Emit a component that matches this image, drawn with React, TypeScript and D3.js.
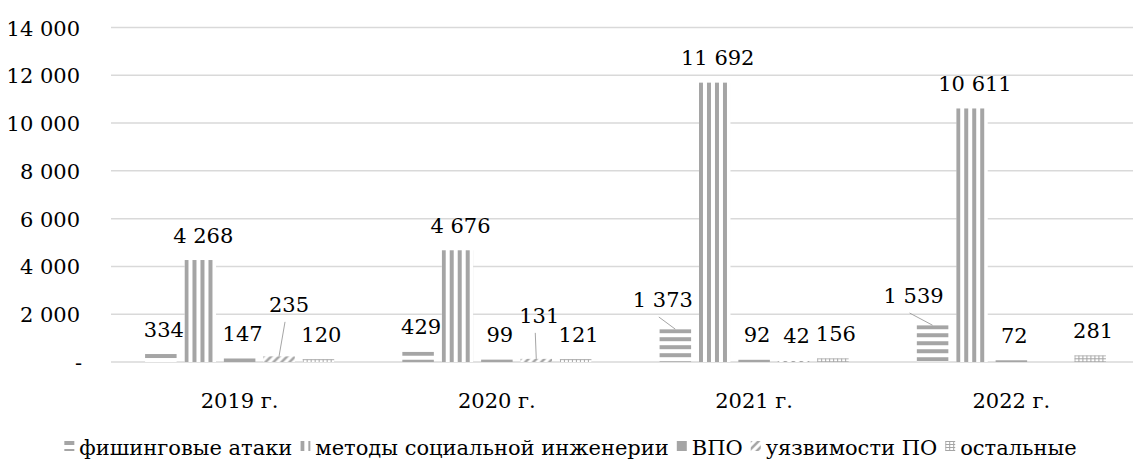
import React, { useEffect, useRef } from "react";
import * as d3 from "d3";

const categories = ["2019 г.", "2020 г.", "2021 г.", "2022 г."];
const seriesNames = ["фишинговые атаки", "методы социальной инженерии", "ВПО", "уязвимости ПО", "остальные"];
const phishing = [334, 429, 1373, 1539];
const socialEngineering = [4268, 4676, 11692, 10611];
const malware = [147, 99, 92, 72];
const vulnerabilities: (number | null)[] = [235, 131, 42, null];
const others = [120, 121, 156, 281];
const yTicks = [0, 2000, 4000, 6000, 8000, 10000, 12000, 14000];

// manual label nudges (series index - category index) : [dx, dy]
const labelNudges: Record<string, [number, number]> = {
  "3-0": [10, -27],
  "3-1": [3, -18.5],
  "0-2": [-12.5, -4.7],
  "0-3": [-19, -4.7],
};

const W = 1133;
const H = 461;
const GREY = "#a5a5a5";
const FONT = "'DejaVu Serif', serif";
const FS = "21px";

export default function App() {
  const ref = useRef<SVGSVGElement>(null);

  useEffect(() => {
    const svg = d3.select(ref.current!);
    svg.selectAll("*").remove();

    const series = [phishing, socialEngineering, malware, vulnerabilities, others];
    const loc = d3.formatLocale({ decimal: ",", thousands: " ", grouping: [3], currency: ["", ""] });
    const fmt0 = loc.format(",d");
    const fmt = (v: number) => (v === 0 ? "-" : fmt0(v));

    const y = d3.scaleLinear().domain([0, 14000]).range([362, 27.5]);
    const x0 = d3.scaleBand<string>().domain(categories).range([111, 1140]).paddingInner(0.265).paddingOuter(0.1325);
    const x1 = d3.scaleBand<number>().domain(d3.range(seriesNames.length)).range([0, x0.bandwidth()]).paddingInner(0.2);

    const defs = svg.append("defs");

    const makePattern = (id: string, si: number, tx: number, ty: number) => {
      const p = defs.append("pattern").attr("id", id).attr("patternUnits", "userSpaceOnUse")
        .attr("patternTransform", `translate(${tx},${ty})`);
      if (si === 0) {
        p.attr("width", 8).attr("height", 8);
        p.append("rect").attr("width", 8).attr("height", 8).attr("fill", "#fff");
        p.append("rect").attr("width", 8).attr("height", 4).attr("fill", GREY);
      } else if (si === 1) {
        p.attr("width", 8).attr("height", 8);
        p.append("rect").attr("width", 8).attr("height", 8).attr("fill", "#fff");
        p.append("rect").attr("width", 4).attr("height", 8).attr("fill", GREY);
      } else if (si === 2) {
        p.attr("width", 8).attr("height", 8);
        p.append("rect").attr("width", 8).attr("height", 8).attr("fill", GREY);
      } else if (si === 3) {
        p.attr("width", 8).attr("height", 8);
        p.append("rect").attr("width", 8).attr("height", 8).attr("fill", "#fff");
        p.append("path").attr("d", "M-2,10 L10,-2 M-2,2 L2,-2 M6,10 L10,6").attr("stroke", GREY).attr("stroke-width", 2.5);
      } else {
        p.attr("width", 4).attr("height", 3);
        p.append("rect").attr("width", 4).attr("height", 3).attr("fill", "#fff");
        p.append("rect").attr("width", 4).attr("height", 1).attr("fill", GREY);
        p.append("rect").attr("width", 1).attr("height", 3).attr("fill", GREY);
      }
    };

    const txt = (sel: any) => sel.style("font-family", FONT).style("font-size", FS).attr("fill", "#000");

    // gridlines
    svg.append("g").selectAll("line").data(yTicks).join("line")
      .attr("x1", 111).attr("x2", W)
      .attr("y1", (d) => y(d)).attr("y2", (d) => y(d))
      .attr("stroke", "#d9d9d9").attr("stroke-width", 1.5);

    // y tick labels
    svg.append("g").selectAll("text").data(yTicks).join("text")
      .attr("x", (d) => (d === 0 ? 82 : 80)).attr("y", (d) => y(d) + 8)
      .attr("text-anchor", "end").call(txt)
      .text((d) => fmt(d));

    // bars
    const gBars = svg.append("g");
    const gLabels = svg.append("g");
    series.forEach((vals, si) => {
      vals.forEach((v, ci) => {
        if (v === null || v === undefined) return;
        const bx = x0(categories[ci])! + x1(si)!;
        const bw = x1.bandwidth();
        const top = y(v);
        const id = `pat-${si}-${ci}`;
        makePattern(id, si, bx, top);
        gBars.append("rect").attr("x", bx).attr("y", top).attr("width", bw).attr("height", y(0) - top)
          .attr("fill", `url(#${id})`);
        const nudge = labelNudges[`${si}-${ci}`];
        const cx = bx + bw / 2;
        const lx = cx + (nudge ? nudge[0] : 3);
        const ly = top - 17.5 + (nudge ? nudge[1] : 0);
        if (nudge) {
          gLabels.append("line").attr("x1", lx - 4).attr("y1", ly + 10).attr("x2", cx).attr("y2", top)
            .attr("stroke", GREY).attr("stroke-width", 1);
        }
        gLabels.append("text").attr("x", lx).attr("y", ly).attr("text-anchor", "middle")
          .call(txt).text(fmt(v));
      });
    });

    // category labels
    svg.append("g").selectAll("text").data(categories).join("text")
      .attr("x", (d) => x0(d)! + x0.bandwidth() / 2).attr("y", 408)
      .attr("text-anchor", "middle").call(txt)
      .text((d) => d);

    // legend
    const lg = svg.append("g");
    let cursor = 0;
    const sw = 10;
    seriesNames.forEach((name, si) => {
      const it = lg.append("g");
      const pid = `leg-${si}`;
      makePattern(pid, si, cursor, -14);
      it.append("rect").attr("x", cursor).attr("y", -14).attr("width", sw).attr("height", sw)
        .attr("fill", `url(#${pid})`);
      const t = it.append("text").attr("x", cursor + sw + 5).attr("y", 0).call(txt).text(name);
      const tw = (t.node() as SVGTextElement).getComputedTextLength();
      cursor += sw + 5 + tw + 8;
    });
    const total = cursor - 8;
    lg.attr("transform", `translate(${(W - total) / 2 + 4},455)`);
  }, []);

  return (
    <svg ref={ref} width={W} height={H} style={{ position: "absolute", left: 0, top: 0, background: "#fff" }} />
  );
}
